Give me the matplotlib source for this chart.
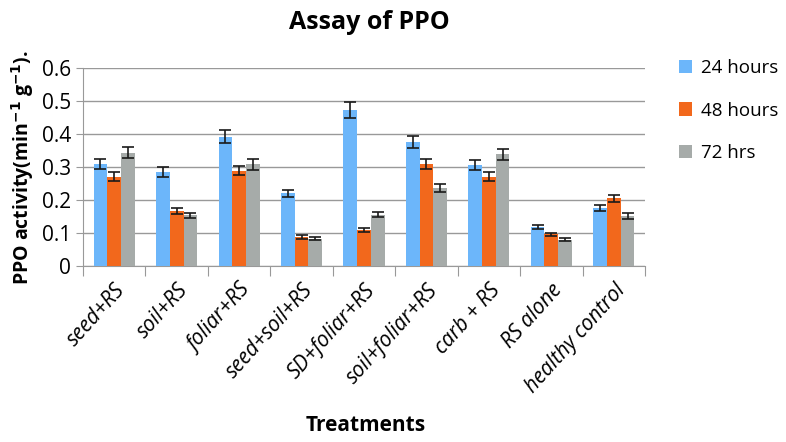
import numpy as np
import matplotlib.pyplot as plt

plt.rcParams['font.family'] = ['Open Sans', 'DejaVu Sans']

treatments = ['seed+RS', 'soil+RS', 'foliar+RS', 'seed+soil+RS', 'SD+foliar+RS',
              'soil+foliar+RS', 'carb + RS', 'RS alone', 'healthy control']
series_names = ['24 hours', '48 hours', '72 hrs']
h24 = [0.310, 0.285, 0.392, 0.221, 0.473, 0.376, 0.307, 0.118, 0.176]
h48 = [0.271, 0.166, 0.289, 0.088, 0.108, 0.308, 0.271, 0.096, 0.205]
h72 = [0.344, 0.154, 0.308, 0.083, 0.156, 0.237, 0.339, 0.080, 0.152]
err24 = [0.015, 0.014, 0.019, 0.011, 0.024, 0.018, 0.015, 0.006, 0.009]
err48 = [0.014, 0.009, 0.014, 0.005, 0.006, 0.015, 0.014, 0.005, 0.010]
err72 = [0.017, 0.008, 0.016, 0.004, 0.008, 0.012, 0.017, 0.004, 0.008]

colors = ['#6CB6FA', '#F2681C', '#A6ABA9']

fig = plt.figure(figsize=(7.86, 4.42), dpi=100)
ax = fig.add_axes([0.1056, 0.398, 0.715, 0.448])

x = np.arange(len(treatments))
w = 0.22
for i, (vals, errs) in enumerate(zip([h24, h48, h72], [err24, err48, err72])):
    ax.bar(x + (i - 1) * w, vals, w, color=colors[i], label=series_names[i],
           yerr=errs, capsize=4, error_kw=dict(ecolor='#1a1a1a', elinewidth=1.2, capthick=1.2),
           zorder=3)

ax.set_xlim(-0.5, len(treatments) - 0.5)
ax.set_ylim(0, 0.6)
ax.set_yticks(np.arange(0, 0.61, 0.1))
ax.set_yticklabels(['0', '0.1', '0.2', '0.3', '0.4', '0.5', '0.6'], fontsize=15)
ax.yaxis.grid(True, color='#999999', linewidth=1, zorder=0)
ax.set_axisbelow(True)

# category ticks sit on the boundaries between groups
ax.set_xticks(np.arange(-0.5, len(treatments), 1.0))
ax.set_xticklabels([])
ax.set_xticks(x, minor=True)
ax.set_xticklabels(treatments, minor=True, rotation=48, ha='right', rotation_mode='anchor',
                   fontsize=15, style='italic')
ax.tick_params(axis='x', which='minor', length=0, pad=10)
ax.tick_params(axis='x', which='major', length=7, color='#999999')
ax.tick_params(axis='y', length=5, color='#999999')

for s in ['top', 'right']:
    ax.spines[s].set_visible(False)
for s in ['left', 'bottom']:
    ax.spines[s].set_color('#999999')

ax.set_ylabel('PPO activity(min$^{\\mathbf{-1}}$ g$^{\\mathbf{-1}}$).', fontsize=14, fontweight='bold',
              labelpad=4)
fig.text(0.465, 0.038, 'Treatments', ha='center', va='center', fontsize=15, fontweight='bold')
fig.text(0.47, 0.95, 'Assay of PPO', ha='center', va='center', fontsize=18, fontweight='bold')

ax.legend(loc='upper left', bbox_to_anchor=(1.03, 1.13), frameon=False, fontsize=13.5,
          handlelength=0.7, handleheight=0.7, handletextpad=0.5, labelspacing=1.3)

fig.savefig('out.png', dpi=100)
